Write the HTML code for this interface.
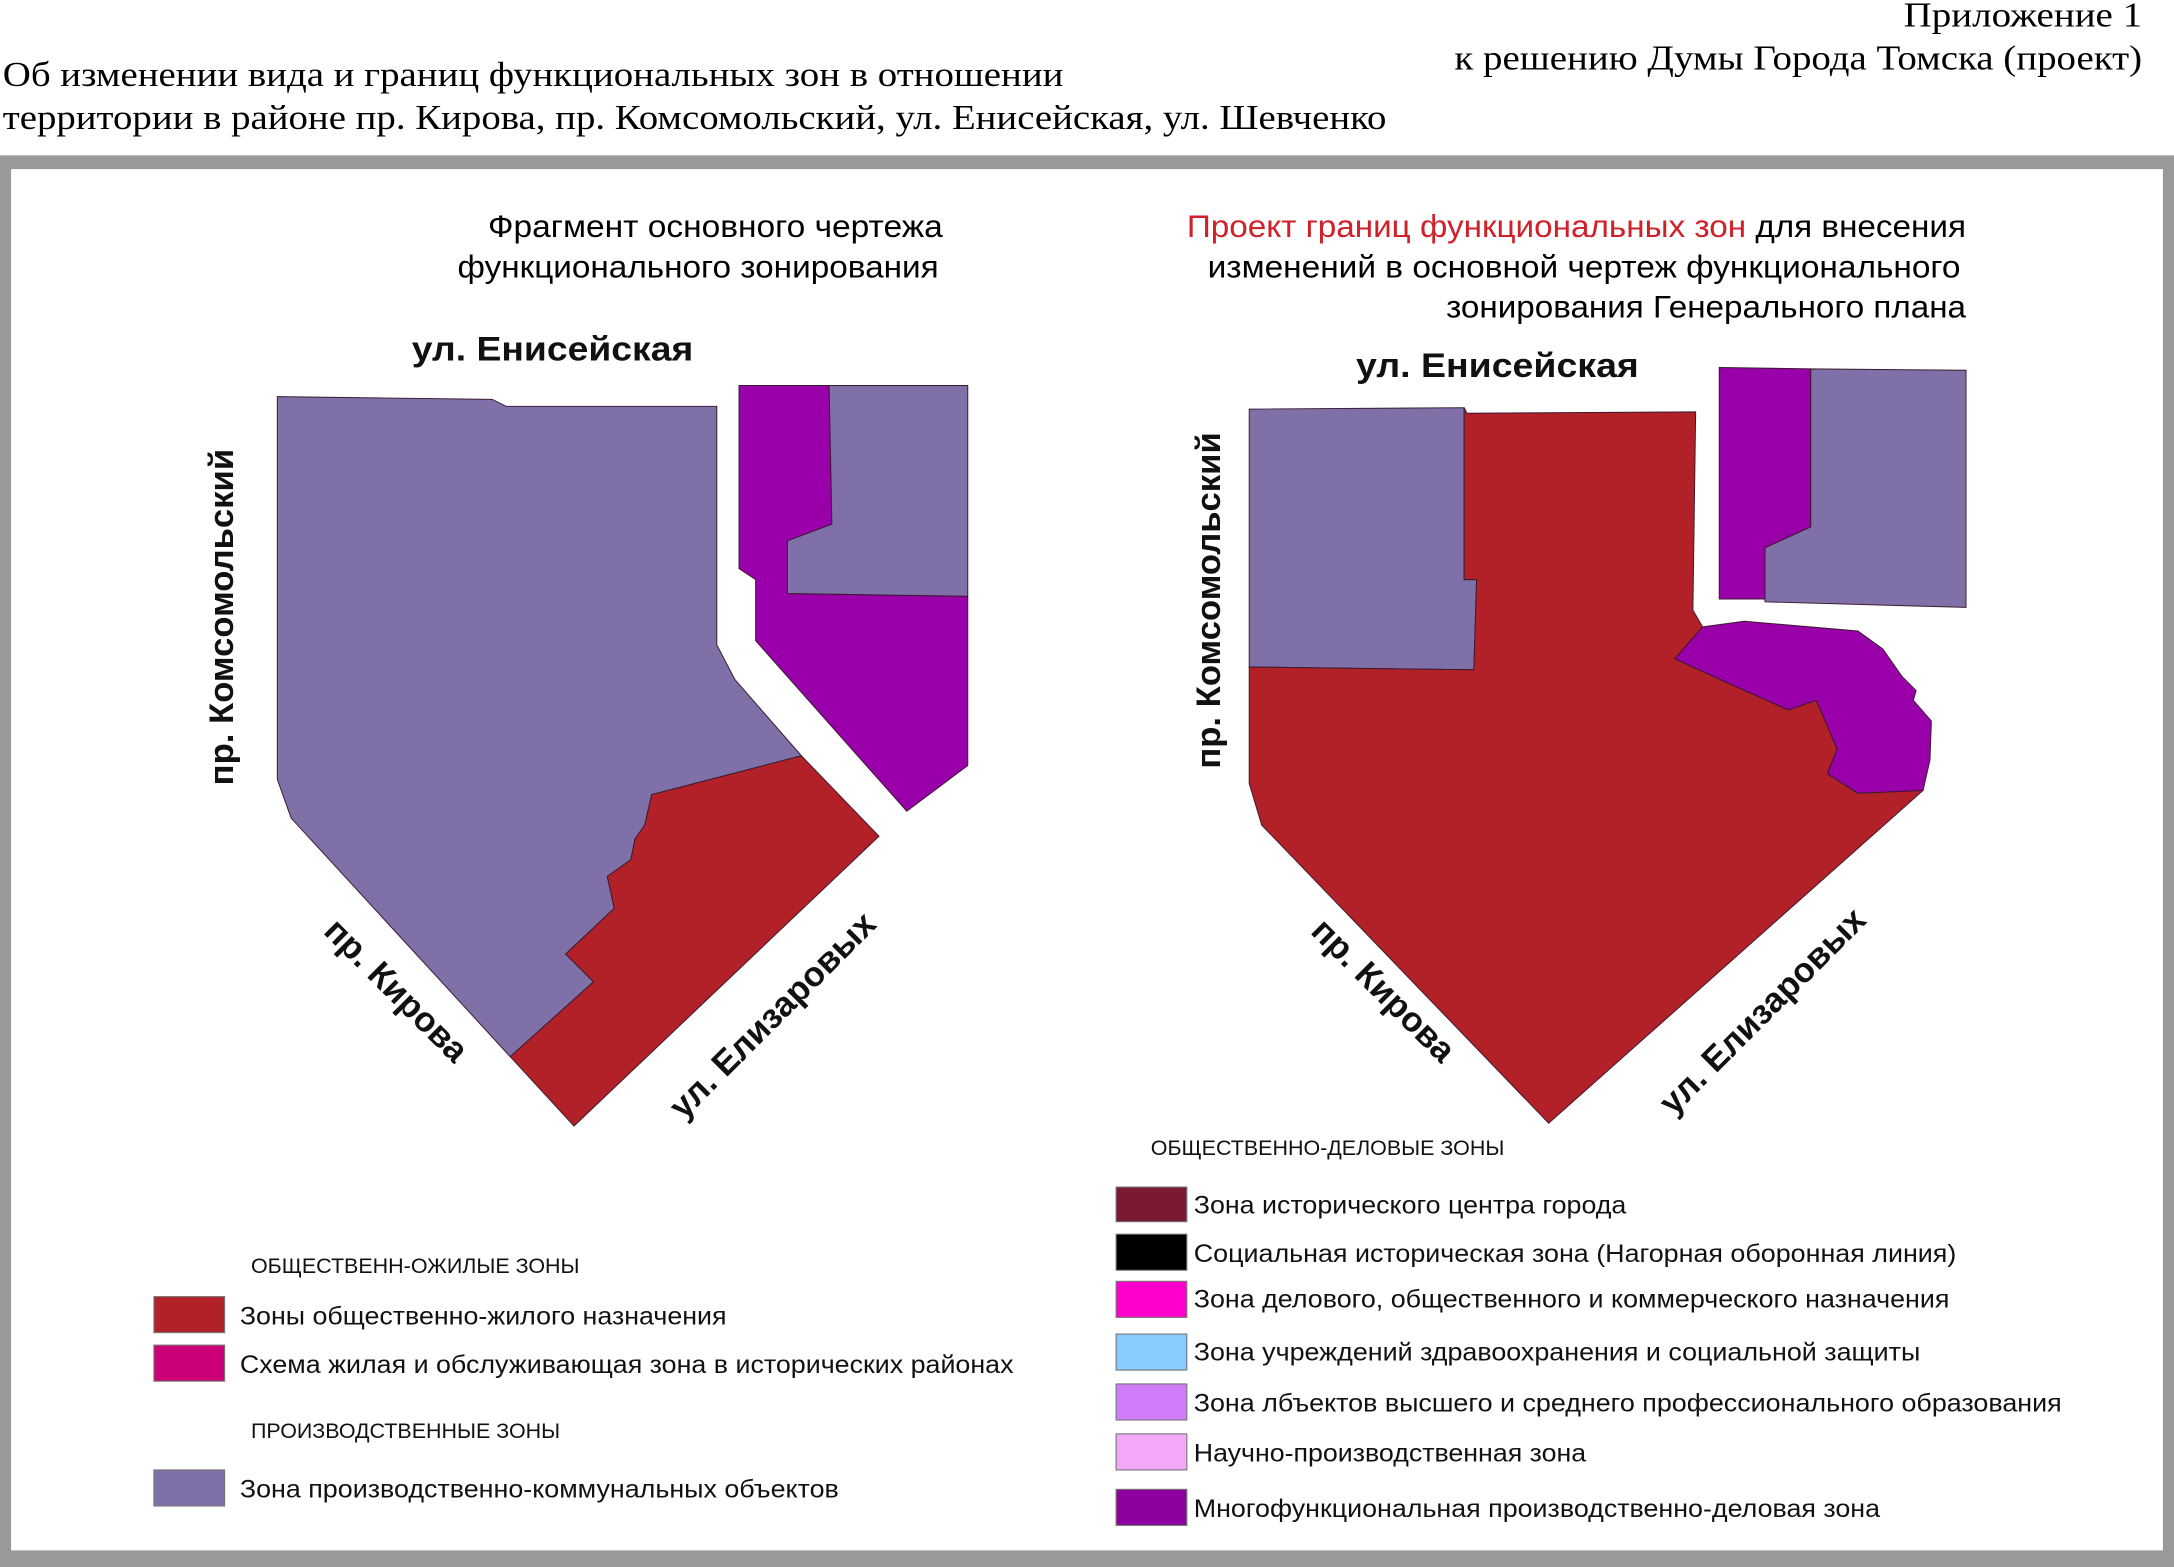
<!DOCTYPE html>
<html><head><meta charset="utf-8"><style>
html,body{margin:0;padding:0;background:#fff;}
svg{display:block;}
.s{font-family:"Liberation Sans",sans-serif;}
.r{font-family:"Liberation Serif",serif;}
</style></head><body>
<svg width="2174" height="1567" viewBox="0 0 1568 1130" preserveAspectRatio="none" xmlns="http://www.w3.org/2000/svg">
<rect x="0" y="0" width="1568" height="1130" fill="#fff"/>
<text class="r" x="1545" y="19" font-size="25" text-anchor="end" textLength="172" lengthAdjust="spacingAndGlyphs">Приложение 1</text>
<text class="r" x="1545" y="50" font-size="25" text-anchor="end" textLength="496" lengthAdjust="spacingAndGlyphs">к решению Думы Города Томска (проект)</text>
<text class="r" x="2" y="62" font-size="25" textLength="765" lengthAdjust="spacingAndGlyphs">Об изменении вида и границ функциональных зон в отношении</text>
<text class="r" x="2" y="93" font-size="25" textLength="998" lengthAdjust="spacingAndGlyphs">территории в районе пр. Кирова, пр. Комсомольский, ул. Енисейская, ул. Шевченко</text>
<path d="M0 112 H1568 V1130 H0 Z M8 122 V1118 H1560 V122 Z" fill="#999" fill-rule="evenodd"/>

<g class="s" font-size="23">
<text x="352" y="171" textLength="328" lengthAdjust="spacingAndGlyphs">Фрагмент основного чертежа</text>
<text x="330" y="200" textLength="347" lengthAdjust="spacingAndGlyphs">функционального зонирования</text>
<text x="856" y="171" textLength="562" lengthAdjust="spacingAndGlyphs"><tspan fill="#d0202a">Проект границ функциональных зон</tspan> для внесения</text>
<text x="871" y="200" textLength="543" lengthAdjust="spacingAndGlyphs">изменений в основной чертеж функционального</text>
<text x="1043" y="229" textLength="375" lengthAdjust="spacingAndGlyphs">зонирования Генерального плана</text>
</g>
<g class="s" font-size="25" font-weight="bold" fill="#111">
<text x="297" y="260" textLength="203" lengthAdjust="spacingAndGlyphs">ул. Енисейская</text>
<text x="978" y="272" textLength="204" lengthAdjust="spacingAndGlyphs">ул. Енисейская</text>
<text transform="translate(168,445) rotate(-90)" text-anchor="middle">пр. Комсомольский</text>
<text transform="translate(880,433) rotate(-90)" text-anchor="middle">пр. Комсомольский</text>
<text transform="translate(280,720) rotate(45)" text-anchor="middle">пр. Кирова</text>
<text transform="translate(992,720) rotate(45)" text-anchor="middle">пр. Кирова</text>
<text transform="translate(563,738) rotate(-45)" text-anchor="middle">ул. Елизаровых</text>
<text transform="translate(1277,735) rotate(-45)" text-anchor="middle">ул. Елизаровых</text>
</g>

<g stroke="#3a1a30" stroke-width="0.7">
<polygon fill="#8070a8" points="200,286 355,288 365,293 517,293 517,465 530,490 578,545 470,573 465,595 458,605 455,620 438,632 443,655 408,688 428,708 368,762 210,590 200,562"/>
<polygon fill="#b22028" points="578,545 634,603 414,812 368,762 428,708 408,688 443,655 438,632 455,620 458,605 465,595 470,573"/>
<polygon fill="#9900aa" points="533,278 598,278 600,378 568,390 568,428 698,430 698,552 654,585 545,462 545,418 533,410"/>
<polygon fill="#8070a8" points="598,278 698,278 698,430 568,428 568,390 600,378"/>

<polygon fill="#8070a8" points="901,295 1056,294 1056,418 1065,418 1063,483 901,481"/>
<polygon fill="#b22028" points="1056,294 1058,298 1223,297 1221,440 1228,452 1208,475 1245,492 1290,512 1310,505 1325,540 1318,558 1340,572 1387,570 1117,810 910,595 901,565 901,481 1063,483 1065,418 1056,418"/>
<polygon fill="#9900aa" points="1228,452 1258,448 1340,455 1358,468 1372,488 1382,498 1380,505 1393,520 1392,548 1387,570 1340,572 1318,558 1325,540 1310,505 1290,512 1245,492 1208,475"/>
<polygon fill="#9900aa" points="1240,265 1306,266 1306,380 1273,395 1273,432 1240,432"/>
<polygon fill="#8070a8" points="1306,266 1418,267 1418,438 1273,434 1273,395 1306,380"/>
</g>

<g class="s" fill="#111">
<text x="830" y="833" font-size="15" textLength="255" lengthAdjust="spacingAndGlyphs">ОБЩЕСТВЕННО-ДЕЛОВЫЕ ЗОНЫ</text>
<g stroke="#777" stroke-width="0.8">
<rect x="805" y="856" width="51" height="25" fill="#7a1a32"/>
<rect x="805" y="890" width="51" height="26" fill="#000"/>
<rect x="805" y="924" width="51" height="26" fill="#ff00cc"/>
<rect x="805" y="962" width="51" height="26" fill="#88ccff"/>
<rect x="805" y="998" width="51" height="26" fill="#d07cf8"/>
<rect x="805" y="1034" width="51" height="26" fill="#f4a8f8"/>
<rect x="805" y="1074" width="51" height="26" fill="#8e00a0"/>
</g>
<g font-size="18">
<text x="861" y="875" textLength="312" lengthAdjust="spacingAndGlyphs">Зона исторического центра города</text>
<text x="861" y="910" textLength="550" lengthAdjust="spacingAndGlyphs">Социальная историческая зона (Нагорная оборонная линия)</text>
<text x="861" y="943" textLength="545" lengthAdjust="spacingAndGlyphs">Зона делового, общественного и коммерческого назначения</text>
<text x="861" y="981" textLength="524" lengthAdjust="spacingAndGlyphs">Зона учреждений здравоохранения и социальной защиты</text>
<text x="861" y="1018" textLength="626" lengthAdjust="spacingAndGlyphs">Зона лбъектов высшего и среднего профессионального образования</text>
<text x="861" y="1054" textLength="283" lengthAdjust="spacingAndGlyphs">Научно-производственная зона</text>
<text x="861" y="1094" textLength="495" lengthAdjust="spacingAndGlyphs">Многофункциональная производственно-деловая зона</text>
</g>

<text x="181" y="918" font-size="15" textLength="237" lengthAdjust="spacingAndGlyphs">ОБЩЕСТВЕНН-ОЖИЛЫЕ ЗОНЫ</text>
<text x="181" y="1037" font-size="15" textLength="223" lengthAdjust="spacingAndGlyphs">ПРОИЗВОДСТВЕННЫЕ ЗОНЫ</text>
<g stroke="#777" stroke-width="0.8">
<rect x="111" y="935" width="51" height="26" fill="#b22028"/>
<rect x="111" y="970" width="51" height="26" fill="#cc0077"/>
<rect x="111" y="1060" width="51" height="26" fill="#8070a8"/>
</g>
<g font-size="18">
<text x="173" y="955" textLength="351" lengthAdjust="spacingAndGlyphs">Зоны общественно-жилого назначения</text>
<text x="173" y="990" textLength="558" lengthAdjust="spacingAndGlyphs">Схема жилая и обслуживающая зона в исторических районах</text>
<text x="173" y="1080" textLength="432" lengthAdjust="spacingAndGlyphs">Зона производственно-коммунальных объектов</text>
</g>
</g>
</svg>
</body></html>
